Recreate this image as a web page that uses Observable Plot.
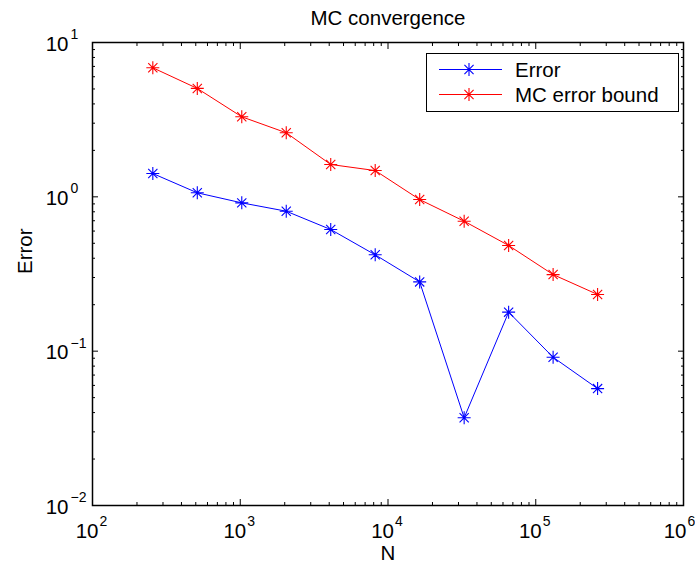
<!DOCTYPE html>
<html>
<head>
<meta charset="utf-8">
<script src="https://cdn.jsdelivr.net/npm/d3@7"></script>
<script src="https://cdn.jsdelivr.net/npm/@observablehq/plot@0.6"></script>
<style>
  body { margin: 0; background: #fff; }
  #wrap { position: relative; width: 695px; height: 564px; font-family: "Liberation Sans", Arial, sans-serif; }
  #legend { position: absolute; left: 426px; top: 53px; width: 251px; height: 57px; background: #fff; border: 1px solid #000; }
</style>
</head>
<body>
<div id="wrap"></div>
<script>
// ---- data ----
const N = [256, 512, 1024, 2048, 4096, 8192, 16384, 32768, 65536, 131072, 262144];
const errorValues = [1.416, 1.062, 0.914, 0.807, 0.614, 0.421, 0.281, 0.037, 0.179, 0.0913, 0.0572];
const boundValues = [6.86, 5.04, 3.30, 2.60, 1.62, 1.48, 0.96, 0.695, 0.484, 0.3135, 0.233];
const seriesNames = ["Error", "MC error bound"];
const seriesColors = ["#0000ff", "#ff0000"];
const xTickExponents = [2, 3, 4, 5, 6];
const yTickExponents = [-2, -1, 0, 1];
const titleText = "MC convergence";
const xLabel = "N";
const yLabel = "Error";

// ---- derived ----
const rows = [];
N.forEach((n, i) => {
  rows.push({N: n, value: errorValues[i], series: seriesNames[0]});
  rows.push({N: n, value: boundValues[i], series: seriesNames[1]});
});
const xMajor = xTickExponents.map(e => Math.pow(10, e));
const yMajor = yTickExponents.map(e => Math.pow(10, e));
const minorOf = exps => {
  const out = [];
  for (let i = 0; i < exps.length - 1; i++)
    for (let k = 2; k <= 9; k++) out.push(k * Math.pow(10, exps[i]));
  return out;
};
const xMinor = minorOf(xTickExponents);
const yMinor = minorOf(yTickExponents);
const xTickData = xTickExponents.map(e => ({v: Math.pow(10, e), e: String(e).replace("-", "\u2212")}));
const yTickData = yTickExponents.map(e => ({v: Math.pow(10, e), e: String(e).replace("-", "\u2212")}));
const xTickInner = xTickData.slice(0, -1);
const xTickLast = xTickData.slice(-1);

const asterisk = {
  draw(context, size) {
    const r = Math.sqrt(size / Math.PI);
    const d = r * Math.SQRT1_2;
    context.moveTo(-r, 0); context.lineTo(r, 0);
    context.moveTo(0, -r); context.lineTo(0, r);
    context.moveTo(-d, -d); context.lineTo(d, d);
    context.moveTo(-d, d); context.lineTo(d, -d);
  }
};

const FS = 20.5, EFS = 14;
const xLabelMarks = (data, shift) => [
  Plot.text(data, {x: "v", text: () => "10", frameAnchor: "bottom", textAnchor: "end", dx: 6 + shift, dy: 26, fontSize: FS, lineAnchor: "middle", fill: "black"}),
  Plot.text(data, {x: "v", text: "e", frameAnchor: "bottom", textAnchor: "start", dx: 7 + shift, dy: 16, fontSize: EFS, lineAnchor: "middle", fill: "black"})
];
const chart = Plot.plot({
  width: 695,
  height: 564,
  marginLeft: 92,
  marginRight: 12,
  marginTop: 42,
  marginBottom: 59,
  style: {fontFamily: '"Liberation Sans", Arial, sans-serif', background: "white", overflow: "visible"},
  x: {type: "log", domain: [100, 1e6]},
  y: {type: "log", domain: [0.01, 10]},
  color: {domain: seriesNames, range: seriesColors},
  marks: [
    // minor and major inward ticks on all four sides
    Plot.axisX(xMinor, {anchor: "bottom", tickSize: -3, text: null, strokeWidth: 1}),
    Plot.axisX(xMinor, {anchor: "top", tickSize: -3, text: null, strokeWidth: 1}),
    Plot.axisX(xMajor, {anchor: "bottom", tickSize: -6, text: null, strokeWidth: 1}),
    Plot.axisX(xMajor, {anchor: "top", tickSize: -6, text: null, strokeWidth: 1}),
    Plot.axisY(yMinor, {anchor: "left", tickSize: -3, text: null, strokeWidth: 1}),
    Plot.axisY(yMinor, {anchor: "right", tickSize: -3, text: null, strokeWidth: 1}),
    Plot.axisY(yMajor, {anchor: "left", tickSize: -6, text: null, strokeWidth: 1}),
    Plot.axisY(yMajor, {anchor: "right", tickSize: -6, text: null, strokeWidth: 1}),
    Plot.frame({stroke: "black", strokeWidth: 1.5}),
    // tick labels 10^e
    ...xLabelMarks(xTickInner, 0),
    ...xLabelMarks(xTickLast, -3),
    Plot.text(yTickData, {y: "v", text: () => "10", frameAnchor: "left", textAnchor: "end", dx: -24, dy: 1.5, fontSize: FS, lineAnchor: "middle", fill: "black"}),
    Plot.text(yTickData, {y: "v", text: "e", frameAnchor: "left", textAnchor: "start", dx: -22, dy: -8, fontSize: EFS, lineAnchor: "middle", fill: "black"}),
    // axis labels and title
    Plot.text([xLabel], {frameAnchor: "bottom", dy: 48, fontSize: FS, lineAnchor: "middle", fill: "black"}),
    Plot.text([yLabel], {frameAnchor: "left", dx: -67.5, rotate: -90, fontSize: FS, lineAnchor: "middle", fill: "black"}),
    Plot.text([titleText], {frameAnchor: "top", dy: -24, fontSize: FS, lineAnchor: "middle", fill: "black"}),
    // data
    Plot.line(rows, {x: "N", y: "value", z: "series", stroke: "series", strokeWidth: 1}),
    Plot.dot(rows, {x: "N", y: "value", stroke: "series", symbol: asterisk, r: 6.5, strokeWidth: 1.1, fill: "none"})
  ]
});

const wrap = document.getElementById("wrap");
wrap.appendChild(chart);

// legend box (top-right inside the axes)
const legend = document.createElement("div");
legend.id = "legend";
const ns = "http://www.w3.org/2000/svg";
const lsvg = document.createElementNS(ns, "svg");
lsvg.setAttribute("width", 251);
lsvg.setAttribute("height", 57);
lsvg.style.fontFamily = '"Liberation Sans", Arial, sans-serif';
seriesNames.forEach((name, i) => {
  const cy = 15.5 + i * 25;
  const line = document.createElementNS(ns, "line");
  line.setAttribute("x1", 12); line.setAttribute("x2", 75);
  line.setAttribute("y1", cy); line.setAttribute("y2", cy);
  line.setAttribute("stroke", seriesColors[i]); line.setAttribute("stroke-width", 1);
  lsvg.appendChild(line);
  const p = d3.path();
  asterisk.draw(p, 42 * Math.PI);
  const mk = document.createElementNS(ns, "path");
  mk.setAttribute("d", p.toString());
  mk.setAttribute("transform", `translate(42,${cy})`);
  mk.setAttribute("stroke", seriesColors[i]); mk.setAttribute("fill", "none");
  mk.setAttribute("stroke-width", 1.1);
  lsvg.appendChild(mk);
  const t = document.createElementNS(ns, "text");
  t.setAttribute("x", 88); t.setAttribute("y", cy);
  t.setAttribute("dy", "0.35em");
  t.setAttribute("font-size", FS);
  t.textContent = name;
  lsvg.appendChild(t);
});
legend.appendChild(lsvg);
wrap.appendChild(legend);
</script>
</body>
</html>
